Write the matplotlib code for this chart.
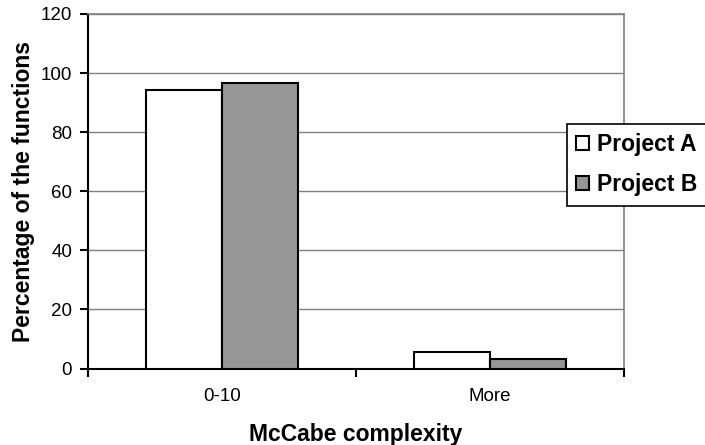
import matplotlib
matplotlib.use("Agg")
import matplotlib.pyplot as plt
import numpy as np

categories = ["0-10", "More"]
project_a = [94.3, 5.7]
project_b = [96.8, 3.2]
series_names = ["Project A", "Project B"]
y_ticks = [0, 20, 40, 60, 80, 100, 120]

plt.rcParams['font.family'] = ['Liberation Sans', 'DejaVu Sans']

W, H = 705, 445
fig = plt.figure(figsize=(W / 100, H / 100), dpi=100)
ax = fig.add_axes([88 / W, (H - 368.5) / H, (624 - 88) / W, (368.5 - 14) / H])

x = np.arange(len(categories))
bw = 0.285
ax.bar(x - bw / 2, project_a, bw, color="white", edgecolor="black", linewidth=1.5,
       label=series_names[0], zorder=3)
ax.bar(x + bw / 2, project_b, bw, color="#969696", edgecolor="black", linewidth=1.5,
       label=series_names[1], zorder=3)

ax.set_xlim(-0.5, len(categories) - 0.5)
ax.set_ylim(0, 120)
ax.set_yticks(y_ticks)
ax.set_yticklabels([str(v) for v in y_ticks], fontsize=13.5)
ax.yaxis.grid(True, color="#808080", linewidth=1, zorder=0)
ax.set_axisbelow(True)

# category labels centered, ticks at boundaries
ax.set_xticks(x)
ax.set_xticklabels(categories, fontsize=13.5)
ax.tick_params(axis='x', which='major', length=0, pad=14)
ax.set_xticks(np.arange(-0.5, len(categories), 1.0), minor=True)
ax.tick_params(axis='x', which='minor', length=6, width=1.5, direction='out', color='black')
ax.tick_params(axis='y', length=6, width=1.5, direction='out', pad=5.5)

for s in ['left', 'bottom']:
    ax.spines[s].set_linewidth(1.5)
    ax.spines[s].set_color('black')
for s in ['top', 'right']:
    ax.spines[s].set_linewidth(1.2)
    ax.spines[s].set_color('#808080')

ax.set_xlabel("McCabe complexity", fontsize=16.5, fontweight='bold', labelpad=13)
ax.set_ylabel("Percentage of the functions", fontsize=16.5, fontweight='bold', labelpad=4)

leg = fig.legend(loc='upper left', bbox_to_anchor=(567 / W, 1 - 124 / H),
                 bbox_transform=fig.transFigure, borderaxespad=0,
                 prop={'weight': 'bold', 'size': 16.5}, frameon=True, fancybox=False,
                 edgecolor='black', handlelength=0.55, handleheight=0.55,
                 handletextpad=0.35, borderpad=0.4, labelspacing=0.75)
leg.get_frame().set_linewidth(1.2)
leg.get_frame().set_alpha(1)

fig.savefig("out.png", dpi=100)
